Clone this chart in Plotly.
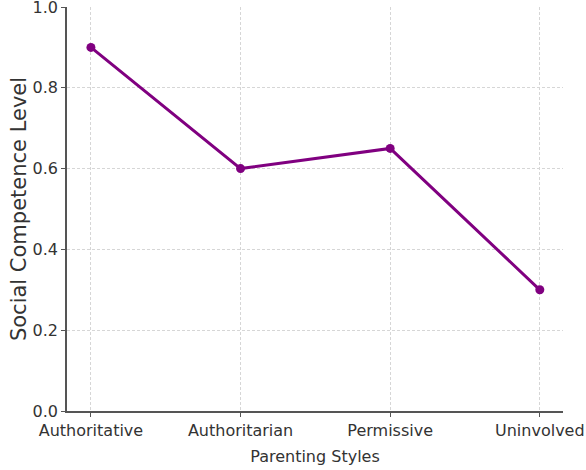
import plotly.graph_objects as go

# Parenting styles and their associated social competence levels
styles = ["Authoritative", "Authoritarian", "Permissive", "Uninvolved"]
competence = [0.9, 0.6, 0.65, 0.3]
y_ticks = [0.0, 0.2, 0.4, 0.6, 0.8, 1.0]
y_tick_labels = ["0.0", "0.2", "0.4", "0.6", "0.8", "1.0"]

positions = list(range(len(styles)))

FONT = "DejaVu Sans"
TEXT = "#333333"
AXIS = "#555555"
GRID = "#d6d6d6"

fig = go.Figure()
fig.add_trace(
    go.Scatter(
        x=positions,
        y=competence,
        mode="lines+markers",
        line=dict(color="#800080", width=3),
        marker=dict(color="#800080", size=9),
        showlegend=False,
    )
)

fig.update_layout(
    width=586,
    height=470,
    margin=dict(l=67, r=23, t=7, b=59),
    paper_bgcolor="white",
    plot_bgcolor="white",
    font=dict(family=FONT, color=TEXT, size=16),
    xaxis=dict(
        range=[-0.16, 3.155],
        tickmode="array",
        tickvals=positions,
        ticktext=styles,
        ticks="outside",
        ticklen=4,
        tickcolor=AXIS,
        tickfont=dict(size=16, color=TEXT),
        ticklabeloverflow="allow",
        showline=True,
        linecolor=AXIS,
        linewidth=1.5,
        showgrid=True,
        gridcolor=GRID,
        griddash="3px,2px",
        gridwidth=1,
        zeroline=False,
        title=dict(text="Parenting Styles", font=dict(size=16, color=TEXT), standoff=12),
        automargin=False,
    ),
    yaxis=dict(
        range=[0, 1.0],
        tickmode="array",
        tickvals=y_ticks,
        ticktext=y_tick_labels,
        ticks="outside",
        ticklen=4,
        tickcolor=AXIS,
        tickfont=dict(size=16, color=TEXT),
        ticklabeloverflow="allow",
        showline=True,
        linecolor=AXIS,
        linewidth=1.5,
        showgrid=True,
        gridcolor=GRID,
        griddash="3px,2px",
        gridwidth=1,
        zeroline=False,
        title=dict(text="Social Competence Level", font=dict(size=21, color=TEXT), standoff=0),
        automargin=False,
    ),
)

fig.write_html("out.html")
